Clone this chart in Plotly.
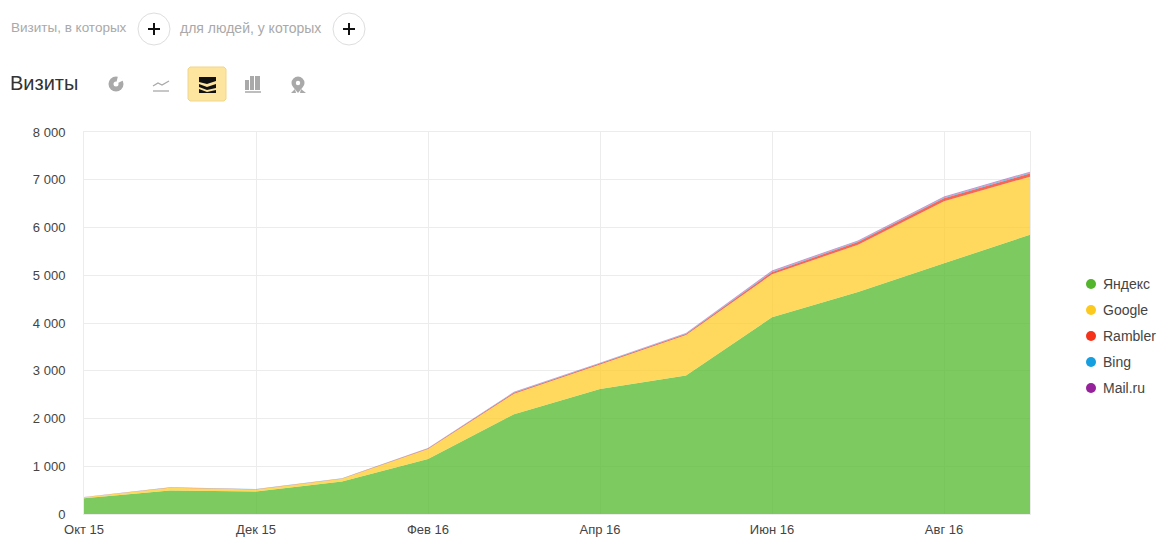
import plotly.graph_objects as go

W, H = 1161, 554
L, R, T, B = 84, 1030, 132, 514

months = ["Окт 15", "Ноя 15", "Дек 15", "Янв 16", "Фев 16", "Мар 16",
          "Апр 16", "Май 16", "Июн 16", "Июл 16", "Авг 16", "Сен 16"]
shown_months = ["Окт 15", "Дек 15", "Фев 16", "Апр 16", "Июн 16", "Авг 16"]
y_ticks = [0, 1000, 2000, 3000, 4000, 5000, 6000, 7000, 8000]
y_labels = ["0", "1 000", "2 000", "3 000", "4 000", "5 000", "6 000", "7 000", "8 000"]

yandex = [330, 490, 470, 680, 1150, 2090, 2620, 2900, 4120, 4650, 5250, 5850]
google = [20, 60, 45, 60, 210, 430, 510, 850, 900, 990, 1300, 1215]
rambler = [2, 5, 5, 5, 10, 20, 20, 20, 45, 55, 60, 65]
bing = [1, 3, 3, 3, 5, 10, 10, 10, 15, 15, 20, 20]
mailru = [1, 2, 2, 2, 5, 10, 10, 10, 20, 20, 20, 20]

series = [
    ("Яндекс", yandex, "#53b52c", "rgba(83,185,46,0.76)"),
    ("Google", google, "#fcc91f", "rgba(255,204,40,0.75)"),
    ("Rambler", rambler, "#f5331b", "rgba(245,51,27,0.75)"),
    ("Bing", bing, "#159fe0", "rgba(21,159,224,0.6)"),
    ("Mail.ru", mailru, "#95219b", "rgba(149,33,155,0.5)"),
]

GREY = "#a9a9a9"
FONT = "Liberation Sans"


def px(x):
    return (x - L) / (R - L)


def py(y):
    return (B - y) / (B - T)


def path(points, close=True):
    d = "M" + " L".join(f"{px(x):.5f},{py(y):.5f}" for x, y in points)
    return d + (" Z" if close else "")


def label(x, y, text, size, color, anchor="left"):
    return dict(x=px(x), y=py(y), xref="paper", yref="paper", text=text, showarrow=False,
                xanchor=anchor, yanchor="middle", xshift=-2, font=dict(size=size, color=color, family=FONT))


def circle(x, y, r, fill, line="rgba(0,0,0,0)", width=1):
    return dict(type="circle", xref="paper", yref="paper", x0=px(x - r), x1=px(x + r),
                y0=py(y + r), y1=py(y - r), fillcolor=fill, line=dict(color=line, width=width))


def poly(points, fill, line=None):
    return dict(type="path", xref="paper", yref="paper", path=path(points),
                fillcolor=fill, line=dict(color=line, width=1) if line else dict(width=0))


def stroke(points, color, width):
    return dict(type="path", xref="paper", yref="paper", path=path(points, close=False),
                line=dict(color=color, width=width))


fig = go.Figure()

for name, values, color, fill in series:
    fig.add_trace(go.Scatter(x=months, y=values, name=name, stackgroup="one", mode="lines",
                             line=dict(width=0, color=fill), fillcolor=fill,
                             showlegend=False, hoverinfo="x+y+name"))

shapes = [
    # top filter buttons
    circle(154, 29, 16, "white", "#dedede"),
    circle(349, 29, 16, "white", "#dedede"),
    stroke([(148, 29), (160, 29)], "#111", 2),
    stroke([(154, 23), (154, 35)], "#111", 2),
    stroke([(343, 29), (355, 29)], "#111", 2),
    stroke([(349, 23), (349, 35)], "#111", 2),
    # pie icon
    circle(116, 84, 7.5, GREY),
    circle(116, 84, 2.5, "white"),
    poly([(116, 84), (118, 76), (124, 80)], "white"),
    # line icon
    stroke([(153, 86), (158, 83), (162, 85), (169, 81)], GREY, 1.3),
    stroke([(153, 91), (169, 91)], GREY, 1.3),
    # selected stacked icon
    poly([(190, 67), (224, 67), (226, 69), (226, 99), (224, 101), (190, 101), (188, 99), (188, 69)],
         "#fde59f", "#f0d68c"),
    poly([(199, 77), (216, 77), (216, 81), (207, 84), (199, 82)], "#111"),
    poly([(199, 84), (207, 87), (216, 84), (216, 88), (207, 90), (199, 87)], "#111"),
    poly([(199, 89), (207, 92), (216, 90), (216, 93), (199, 93)], "#111"),
    # bars icon
    poly([(245, 80), (249, 80), (249, 90), (245, 90)], GREY),
    poly([(250, 76), (254, 76), (254, 90), (250, 90)], GREY),
    poly([(255, 76), (260, 76), (260, 90), (255, 90)], GREY),
    stroke([(245, 92), (261, 92)], GREY, 1.5),
    # pin icon
    circle(298, 83, 6.5, GREY),
    circle(298, 83, 2.2, "white"),
    poly([(294, 88), (302, 88), (298, 93)], GREY),
    poly([(291, 93), (295, 89), (296, 93)], GREY),
    poly([(300, 93), (301, 89), (306, 93)], GREY),
]

annotations = [
    label(11, 28, "Визиты, в которых", 13.5, GREY),
    label(180, 28, "для людей, у которых", 14, GREY),
    label(10, 83, "Визиты", 20, "#333"),
]

# plotly's legend keeps too wide a gap after the swatch, so it is drawn by hand
for i, (name, values, color, fill) in enumerate(series):
    y = 284 + 26 * i
    shapes.append(circle(1091, y, 5, color))
    annotations.append(label(1103, y, name, 14, "#444"))

fig.update_layout(
    width=W, height=H,
    margin=dict(l=L, r=W - R, t=T, b=H - B, autoexpand=False),
    paper_bgcolor="white", plot_bgcolor="white",
    font=dict(family=FONT, size=13, color="#444"),
    shapes=shapes, annotations=annotations,
    showlegend=False, hovermode="x",
)
fig.update_xaxes(type="category", categoryorder="array", categoryarray=months, range=[0, 11],
                 tickvals=shown_months, ticktext=shown_months, showgrid=True, gridcolor="#ececec",
                 showline=True, linecolor="#ececec", mirror=True, ticks="outside", ticklen=3,
                 tickcolor="rgba(0,0,0,0)", tickangle=0, zeroline=False,
                 tickfont=dict(size=13, color="#444"))
fig.update_yaxes(range=[0, 8000], tickvals=y_ticks, ticktext=y_labels, showgrid=True,
                 gridcolor="#ececec", showline=True, linecolor="#ececec", mirror=True,
                 ticks="outside", ticklen=15, tickcolor="rgba(0,0,0,0)", zeroline=False,
                 tickfont=dict(size=13, color="#444"))

fig.write_html("out.html", post_script="document.body.style.margin = '0';",
               config={"displayModeBar": False})
